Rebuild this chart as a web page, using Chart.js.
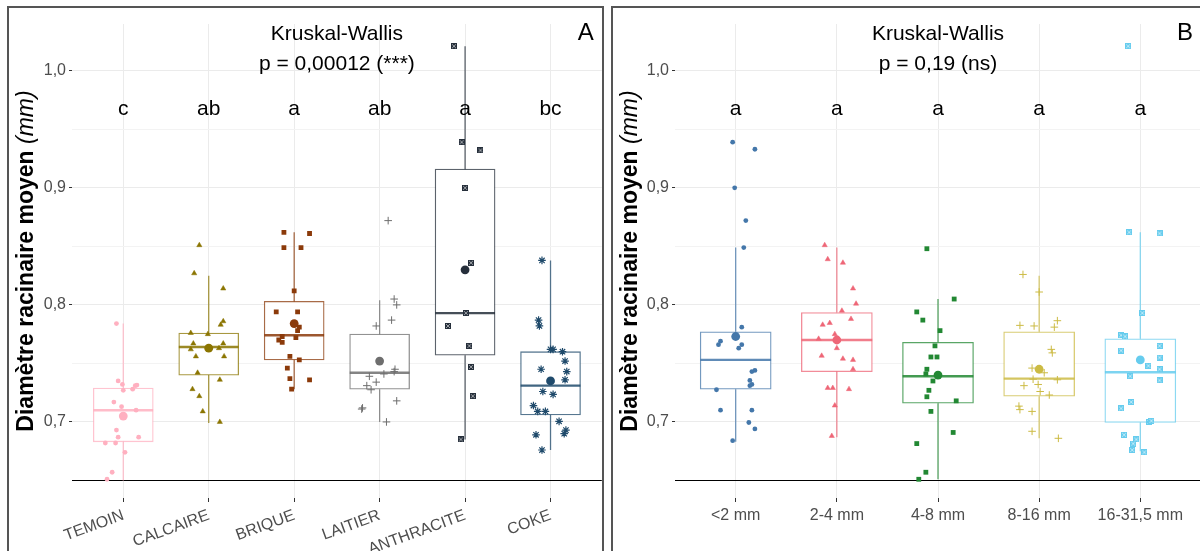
<!DOCTYPE html>
<html>
<head>
<meta charset="utf-8">
<script src="https://cdn.jsdelivr.net/npm/chart.js@4/dist/chart.umd.min.js"></script>
<style>
  body { margin: 0; background: #fff; width: 1200px; height: 551px; overflow: hidden; position: relative; }
  .panel { position: absolute; top: 6px; width: 597px; height: 580px; border: 2px solid #555; box-sizing: border-box; }
  #pa { left: 7px; }
  #pb { left: 611px; }
  canvas { display: block; }
</style>
</head>
<body>
<div class="panel" id="pa"><canvas id="chartA" width="598" height="576"></canvas></div>
<div class="panel" id="pb"><canvas id="chartB" width="593" height="576"></canvas></div>
<script>
  // ---- panel A : amendement ----
  const A_CATS = ["TEMOIN", "CALCAIRE", "BRIQUE", "LAITIER", "ANTHRACITE", "COKE"];
  const A_LETTERS = ["c", "ab", "a", "ab", "a", "bc"];
  const A_Q1   = [0.683, 0.740, 0.753, 0.728, 0.757, 0.706];
  const A_MED  = [0.710, 0.764, 0.774, 0.742, 0.793, 0.731];
  const A_Q3   = [0.729, 0.776, 0.803, 0.775, 0.916, 0.760];
  const A_LO   = [0.650, 0.699, 0.728, 0.700, 0.685, 0.676];
  const A_HI   = [0.784, 0.825, 0.862, 0.804, 1.021, 0.838];
  const A_MEAN = [0.705, 0.763, 0.784, 0.752, 0.830, 0.735];

  // points : [decalage jitter, valeur]
  const PTS_TEMOIN = [[-0.08,0.784],[-0.06,0.735],[-0.01,0.732],[0.00,0.727],[0.11,0.728],[0.14,0.731],[0.16,0.7315],
    [-0.11,0.717],[-0.02,0.713],[0.15,0.710],[-0.08,0.693],[-0.06,0.687],[0.18,0.687],[-0.21,0.682],[-0.09,0.682],
    [0.02,0.674],[-0.13,0.657],[-0.19,0.651]];
  const PTS_CALCAIRE = [[-0.11,0.851],[-0.17,0.827],[0.17,0.814],[0.17,0.786],[0.14,0.783],[-0.21,0.776],[-0.01,0.775],
    [-0.18,0.767],[0.17,0.767],[-0.21,0.762],[0.12,0.763],[-0.15,0.756],[0.18,0.756],[-0.13,0.742],[0.13,0.736],
    [-0.19,0.728],[-0.11,0.722],[-0.07,0.709],[0.13,0.700]];
  const PTS_BRIQUE = [[-0.12,0.862],[-0.12,0.849],[0.08,0.849],[0.18,0.861],[0.00,0.812],[-0.21,0.794],[0.04,0.794],
    [0.06,0.781],[0.04,0.778],[-0.14,0.773],[-0.18,0.770],[-0.14,0.768],[0.02,0.772],[-0.05,0.756],[0.06,0.753],
    [-0.08,0.746],[-0.05,0.737],[-0.03,0.728],[0.18,0.736]];
  const PTS_LAITIER = [[0.10,0.872],[0.17,0.805],[0.20,0.800],[-0.04,0.782],[0.14,0.787],[0.18,0.745],[0.17,0.743],
    [0.05,0.741],[-0.12,0.739],[-0.04,0.734],[-0.15,0.731],[-0.10,0.7275],[0.20,0.718],[-0.20,0.712],[-0.21,0.711],
    [0.08,0.700]];
  const PTS_ANTHRACITE = [[-0.13,1.021],[-0.04,0.939],[0.18,0.932],[0.00,0.900],[0.07,0.836],[0.01,0.793],
    [-0.20,0.782],[0.05,0.765],[0.07,0.747],[0.09,0.722],[-0.05,0.685]];
  const PTS_COKE = [[-0.10,0.838],[-0.14,0.787],[-0.13,0.782],[0.00,0.762],[0.03,0.762],[0.14,0.760],[0.17,0.752],
    [-0.11,0.745],[0.19,0.743],[0.17,0.736],[-0.09,0.726],[0.03,0.7235],[-0.20,0.714],[-0.15,0.709],[-0.06,0.709],
    [0.10,0.7005],[0.18,0.693],[0.16,0.690],[-0.17,0.689],[-0.10,0.676]];

  // ---- panel B : granulometrie ----
  const B_CATS = ["<2 mm", "2-4 mm", "4-8 mm", "8-16 mm", "16-31,5 mm"];
  const B_LETTERS = ["a", "a", "a", "a", "a"];
  const B_Q1   = [0.728, 0.743, 0.716, 0.722, 0.6995];
  const B_MED  = [0.753, 0.770, 0.739, 0.737, 0.7425];
  const B_Q3   = [0.777, 0.7935, 0.768, 0.777, 0.771];
  const B_LO   = [0.683, 0.687, 0.651, 0.686, 0.675];
  const B_HI   = [0.849, 0.849, 0.805, 0.825, 0.862];
  const B_MEAN = [0.773, 0.770, 0.740, 0.745, 0.753];

  const PTS_LT2 = [[-0.03,0.939],[0.19,0.933],[-0.01,0.900],[0.10,0.872],[0.08,0.849],[0.06,0.781],[-0.15,0.769],
    [-0.17,0.766],[0.06,0.766],[0.03,0.763],[0.16,0.743],[0.19,0.744],[0.14,0.7355],[0.14,0.731],[0.16,0.732],
    [-0.19,0.7275],[-0.15,0.710],[0.16,0.710],[0.13,0.6995],[0.19,0.694],[-0.03,0.684]];
  const PTS_2_4 = [[-0.12,0.851],[-0.09,0.839],[0.06,0.836],[0.16,0.814],[0.19,0.801],[0.05,0.795],[0.14,0.788],
    [-0.14,0.783],[-0.07,0.7845],[-0.02,0.775],[-0.18,0.771],[0.00,0.763],[-0.15,0.7565],[0.06,0.754],[0.16,0.753],
    [0.16,0.745],[-0.09,0.729],[-0.04,0.729],[0.12,0.728],[-0.02,0.714],[-0.05,0.688]];
  const PTS_4_8 = [[-0.11,0.848],[0.16,0.805],[-0.21,0.794],[-0.15,0.787],[0.02,0.778],[-0.03,0.765],[-0.07,0.7555],
    [-0.01,0.7555],[-0.11,0.745],[-0.12,0.741],[-0.05,0.735],[-0.09,0.727],[-0.11,0.7215],[0.18,0.718],[-0.07,0.709],
    [0.15,0.691],[-0.21,0.6815],[-0.12,0.657],[-0.19,0.651]];
  const PTS_8_16 = [[-0.16,0.826],[0.00,0.811],[-0.19,0.7825],[-0.05,0.782],[0.18,0.7865],[0.15,0.781],[0.12,0.762],
    [0.13,0.759],[-0.07,0.746],[0.05,0.742],[-0.06,0.7365],[0.18,0.736],[-0.15,0.731],[-0.01,0.732],[0.01,0.726],
    [0.10,0.723],[-0.20,0.7135],[-0.19,0.7105],[-0.07,0.709],[-0.07,0.692],[0.19,0.686]];
  const PTS_16_31 = [[-0.12,1.021],[-0.11,0.862],[0.19,0.861],[0.02,0.793],[-0.19,0.774],[-0.15,0.773],[-0.19,0.761],
    [0.19,0.765],[0.19,0.755],[0.08,0.748],[0.19,0.745],[-0.10,0.739],[0.19,0.7355],[-0.09,0.717],[-0.19,0.7115],
    [0.09,0.700],[0.11,0.701],[-0.16,0.689],[-0.04,0.685],[-0.07,0.6815],[-0.08,0.676],[0.04,0.674]];

  const Y_TICKS = [0.65, 0.7, 0.75, 0.8, 0.85, 0.9, 0.95, 1.0];
  const Y_LABELS = [0.7, 0.8, 0.9, 1.0];
  const REF_LINE = 0.65;

  const A_COLORS = ["#ffb0c0", "#8b7500", "#8b3a0a", "#6e6e6e", "#262f3b", "#1f4a6b"];
  const B_COLORS = ["#4477aa", "#ee6677", "#228833", "#ccbb44", "#66ccee"];

  Chart.defaults.font.family = "'Liberation Sans', Arial, sans-serif";
  Chart.defaults.color = "#4d4d4d";

  function fade(hex, a) {
    const n = parseInt(hex.slice(1), 16);
    return `rgba(${n >> 16},${(n >> 8) & 255},${n & 255},${a})`;
  }

  // carre avec croix (forme 7 de ggplot)
  function boxX(color) {
    const c = document.createElement("canvas");
    c.width = 6; c.height = 6;
    const g = c.getContext("2d");
    g.fillStyle = color;
    g.fillRect(0, 0, 6, 6);
    g.strokeStyle = "rgba(255,255,255,0.55)";
    g.lineWidth = 1;
    g.beginPath();
    g.moveTo(1, 1); g.lineTo(5, 5);
    g.moveTo(5, 1); g.lineTo(1, 5);
    g.stroke();
    return c;
  }

  const SHAPES = [
    { pointStyle: "circle", radius: 2.4, border: 0 },
    { pointStyle: "triangle", radius: 3, border: 0.5 },
    { pointStyle: "rect", radius: 3.4, border: 0 },
    { pointStyle: "cross", radius: 3.8, border: 1 },
    { pointStyle: "boxX", radius: 3, border: 0 },
    { pointStyle: "star", radius: 3.8, border: 1.2 }
  ];

  function makeDatasets(g) {
    const ds = [];
    g.cats.forEach((c, i) => {
      ds.push({
        type: "line", order: 6,
        data: [{ x: i, y: g.lo[i] }, { x: i, y: g.q1[i] }, { x: i, y: null }, { x: i, y: g.q3[i] }, { x: i, y: g.hi[i] }],
        borderColor: fade(g.colors[i], 0.75), borderWidth: 1.3, pointRadius: 0, spanGaps: false
      });
    });
    ds.push({
      type: "bar", order: 5,
      data: g.cats.map((c, i) => ({ x: i, y: [g.q1[i], g.q3[i]] })),
      backgroundColor: "#ffffff",
      borderColor: g.colors.map(col => fade(col, 0.75)),
      borderWidth: 1.3, borderSkipped: false, barThickness: g.boxPx
    });
    g.cats.forEach((c, i) => {
      ds.push({
        type: "line", order: 4,
        data: [{ x: i - 0.35, y: g.med[i] }, { x: i + 0.35, y: g.med[i] }],
        borderColor: fade(g.colors[i], 0.85), borderWidth: 2.4, pointRadius: 0
      });
    });
    g.pts.forEach((pts, i) => {
      const s = SHAPES[i];
      ds.push({
        type: "scatter", order: 3,
        data: pts.map(([dx, v]) => ({ x: i + dx, y: v })),
        pointStyle: s.pointStyle === "boxX" ? boxX(g.colors[i]) : s.pointStyle,
        pointRadius: s.radius,
        backgroundColor: g.colors[i],
        borderColor: g.colors[i],
        borderWidth: s.border
      });
    });
    ds.push({
      type: "scatter", order: 1,
      data: g.cats.map((c, i) => ({ x: i, y: g.mean[i] })),
      pointStyle: "circle", pointRadius: 4.4, borderWidth: 0,
      backgroundColor: g.colors
    });
    return ds;
  }

  const decor = {
    id: "decor",
    beforeDatasetsDraw(chart) {
      const { ctx, chartArea: a, scales: { y } } = chart;
      const py = y.getPixelForValue(REF_LINE);
      ctx.save();
      ctx.strokeStyle = "#000";
      ctx.lineWidth = 1.1;
      ctx.beginPath();
      ctx.moveTo(a.left, py);
      ctx.lineTo(a.right, py);
      ctx.stroke();
      ctx.restore();
    },
    afterDatasetsDraw(chart, args, o) {
      const { ctx, chartArea: a, scales: { x, y } } = chart;
      const fam = Chart.defaults.font.family;
      ctx.save();
      ctx.fillStyle = "#000";
      ctx.textAlign = "center";
      ctx.textBaseline = "middle";
      ctx.font = `21px ${fam}`;
      o.letters.forEach((l, i) => ctx.fillText(l, x.getPixelForValue(i), y.getPixelForValue(0.967)));
      ctx.fillText("Kruskal-Wallis", x.getPixelForValue(o.kwX), y.getPixelForValue(1.031));
      ctx.fillText(o.pText, x.getPixelForValue(o.kwX), y.getPixelForValue(1.006));
      ctx.font = `24px ${fam}`;
      ctx.fillText(o.tag, a.right - 16, a.top + 9);

      // titre de l'axe y : gras + (mm) en italique
      const bold = `bold 23px ${fam}`, ital = `italic 23px ${fam}`;
      const t1 = "Diamètre racinaire moyen ", t2 = "(mm)";
      ctx.font = bold; const w1 = ctx.measureText(t1).width;
      ctx.font = ital; const w2 = ctx.measureText(t2).width;
      ctx.translate(o.titleX, (a.top + a.bottom) / 2);
      ctx.rotate(-Math.PI / 2);
      ctx.textAlign = "left";
      ctx.textBaseline = "alphabetic";
      ctx.font = bold; ctx.fillText(t1, -(w1 + w2) / 2, 0);
      ctx.font = ital; ctx.fillText(t2, -(w1 + w2) / 2 + w1, 0);
      ctx.restore();
    }
  };

  function makeChart(id, g) {
    const n = g.cats.length;
    new Chart(document.getElementById(id), {
      type: "bar",
      data: { datasets: makeDatasets(g) },
      plugins: [decor],
      options: {
        responsive: false,
        animation: false,
        events: [],
        layout: { padding: { top: 16, right: g.padRight, left: 0, bottom: 0 } },
        plugins: {
          legend: { display: false },
          tooltip: { enabled: false },
          decor: { letters: g.letters, pText: g.pText, kwX: g.kwX, tag: g.tag, titleX: 24 }
        },
        scales: {
          x: {
            type: "linear", offset: false, min: -0.6, max: n - 0.4,
            afterBuildTicks: s => { s.ticks = g.cats.map((c, i) => ({ value: i })); },
            afterFit: s => { s.height = 576 - 490; },
            ticks: {
              autoSkip: false, padding: 4, color: "#4d4d4d", font: { size: 16 },
              minRotation: g.rot, maxRotation: g.rot,
              callback: v => g.cats[v]
            },
            grid: { offset: false, color: "#ebebeb", lineWidth: 1, tickLength: 4, tickColor: "#333", tickWidth: 1 },
            border: { display: false }
          },
          y: {
            type: "linear", min: 0.635, max: 1.040, beginAtZero: false,
            afterBuildTicks: s => { s.ticks = Y_TICKS.map(v => ({ value: v })); },
            afterFit: s => { s.width = g.yWidth; },
            ticks: {
              autoSkip: false, padding: 3, color: "#4d4d4d", font: { size: 16 },
              callback: v => Y_LABELS.some(m => Math.abs(m - v) < 1e-6) ? v.toFixed(1).replace(".", ",") : ""
            },
            grid: {
              color: c => Y_LABELS.some(m => Math.abs(m - c.tick.value) < 1e-6) ? "#ebebeb" : "#f3f3f3",
              lineWidth: 1, tickLength: 3,
              tickColor: c => Y_LABELS.some(m => Math.abs(m - c.tick.value) < 1e-6) ? "#333" : "rgba(0,0,0,0)"
            },
            border: { display: false }
          }
        }
      }
    });
  }

  makeChart("chartA", {
    cats: A_CATS, letters: A_LETTERS, q1: A_Q1, med: A_MED, q3: A_Q3, lo: A_LO, hi: A_HI, mean: A_MEAN,
    pts: [PTS_TEMOIN, PTS_CALCAIRE, PTS_BRIQUE, PTS_LAITIER, PTS_ANTHRACITE, PTS_COKE],
    colors: A_COLORS, pText: "p = 0,00012 (***)", kwX: 2.5, tag: "A",
    boxPx: 60, rot: 20, yWidth: 63, padRight: 0
  });

  makeChart("chartB", {
    cats: B_CATS, letters: B_LETTERS, q1: B_Q1, med: B_MED, q3: B_Q3, lo: B_LO, hi: B_HI, mean: B_MEAN,
    pts: [PTS_LT2, PTS_2_4, PTS_4_8, PTS_8_16, PTS_16_31],
    colors: B_COLORS, pText: "p = 0,19 (ns)", kwX: 2, tag: "B",
    boxPx: 71, rot: 0, yWidth: 62, padRight: 2
  });
</script>
</body>
</html>
